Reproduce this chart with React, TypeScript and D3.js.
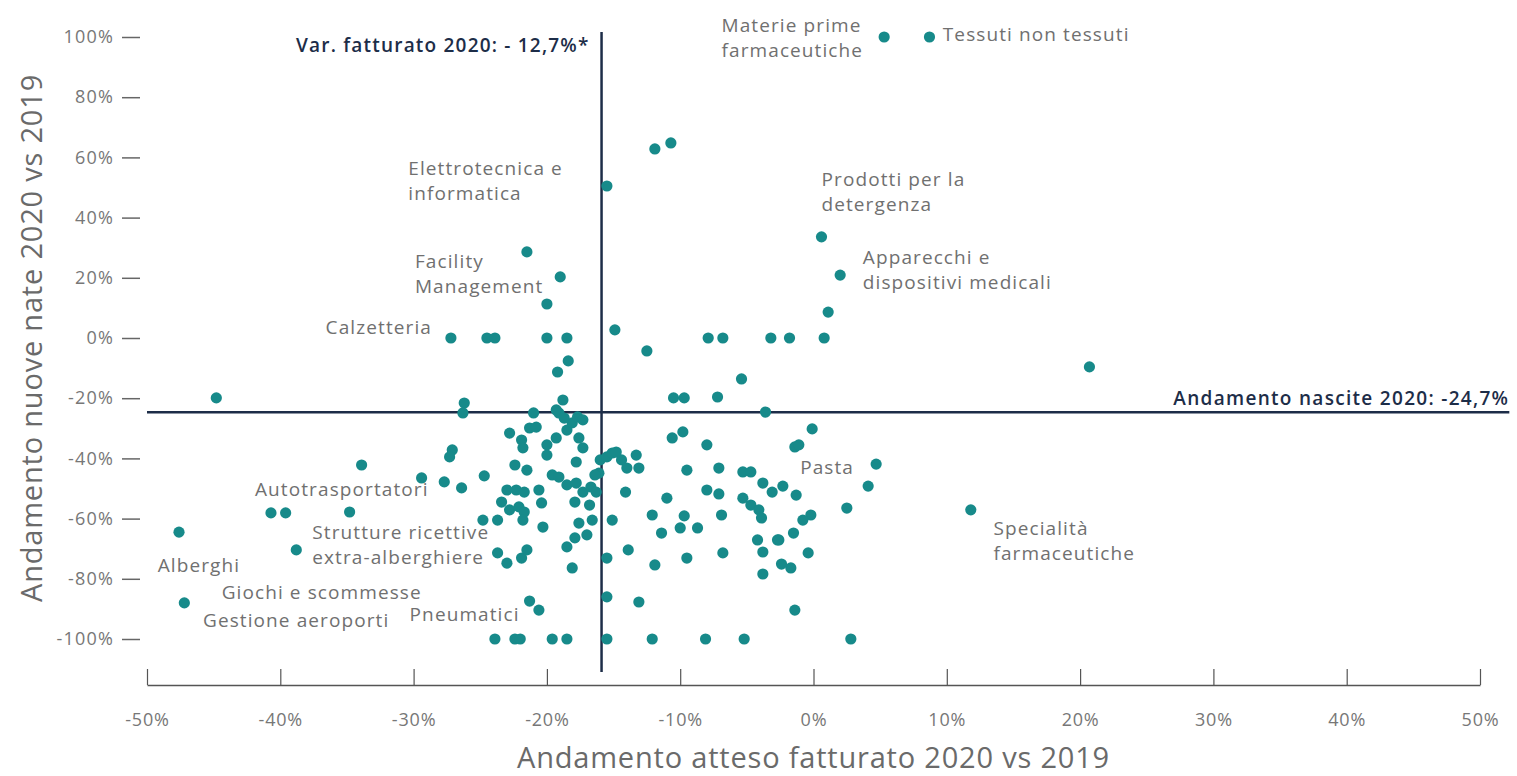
import * as d3 from "d3"
import React, { useEffect, useRef } from "react"

// Dimensioni della pagina
const widthSvg = 1517
const heightSvg = 776

const xTicks = [-50, -40, -30, -20, -10, 0, 10, 20, 30, 40, 50]
const yTicks = [100, 80, 60, 40, 20, 0, -20, -40, -60, -80, -100]

// Linee di riferimento (valori come appaiono nel grafico)
const lineaFatturato = -15.9
const lineaNascite = -24.7

// [andamento atteso fatturato %, andamento nuove nate %]
const settoriAlto: [number, number][] = [
    [5.3, 100], [8.7, 100], [-11.9, 62.8], [-10.7, 64.8], [-15.5, 50.5],
    [0.6, 33.6], [2.0, 20.9], [1.1, 8.6], [0.8, 0], [20.7, -9.6],
    [-21.5, 28.6], [-19.0, 20.3], [-20.0, 11.3],
    [-27.2, 0], [-24.5, 0], [-23.9, 0], [-20.0, 0], [-18.5, 0],
    [-7.9, 0], [-6.8, 0], [-3.2, 0], [-1.8, 0],
    [-14.9, 2.7], [-12.5, -4.3], [-18.4, -7.6], [-19.2, -11.3], [-5.4, -13.6],
    [-10.5, -19.9], [-9.7, -19.9], [-7.2, -19.6], [-3.6, -24.6], [-18.8, -20.6],
    [-26.2, -21.6], [-26.3, -24.9], [-44.8, -19.9], [-21.0, -24.9], [-19.1, -24.9],
]

const settoriDestra: [number, number][] = [
    [-0.1, -30.2], [-1.4, -36.2], [-1.1, -35.5], [4.7, -41.9], [4.1, -49.2],
    [-2.3, -49.2], [-1.3, -52.2], [2.5, -56.5], [11.8, -57.1], [-0.2, -58.8],
    [-0.8, -60.5], [-1.5, -64.8], [-2.6, -67.1], [-0.4, -71.4], [-1.7, -76.4],
    [-2.4, -75.1], [-1.4, -90.4], [2.8, -100],
]

const settoriCentro: [number, number][] = [
    [-10.6, -33.2], [-9.8, -31.2], [-8.0, -35.5], [-9.5, -43.9], [-7.1, -43.2],
    [-5.3, -44.5], [-4.7, -44.5], [-14.1, -51.2], [-11.0, -53.2], [-8.0, -50.5],
    [-7.1, -51.8], [-5.3, -53.2], [-4.7, -55.5], [-4.1, -57.1], [-3.9, -59.8],
    [-3.8, -48.2], [-3.1, -51.2], [-15.1, -60.5], [-12.1, -58.8], [-9.7, -59.1],
    [-10.0, -63.1], [-8.7, -63.1], [-6.9, -58.8], [-11.4, -64.8], [-4.2, -67.1],
    [-3.8, -71.1], [-2.7, -67.1], [-13.9, -70.4], [-9.5, -73.1], [-6.8, -71.4],
    [-11.9, -75.4], [-15.5, -73.1], [-3.8, -78.4],
    [-16.0, -40.5], [-15.5, -39.5], [-15.1, -38.2], [-14.4, -40.5], [-14.0, -43.2],
    [-13.3, -38.9], [-13.1, -43.2], [-14.8, -37.9], [-16.1, -44.9], [-16.4, -45.5],
]

const settoriSinistra: [number, number][] = [
    [-22.8, -31.6], [-21.9, -33.9], [-21.3, -29.9], [-20.8, -29.6], [-21.8, -36.5],
    [-20.0, -35.5], [-19.3, -33.2], [-18.5, -30.6], [-18.1, -28.2], [-17.6, -33.2],
    [-17.3, -36.5], [-20.0, -38.9], [-17.8, -41.2], [-19.3, -23.9], [-18.7, -26.6],
    [-17.7, -26.2], [-17.3, -27.2], [-27.1, -37.2], [-27.3, -39.5], [-27.7, -47.8],
    [-26.4, -49.8], [-24.7, -45.8], [-22.4, -42.2], [-21.5, -43.9], [-23.0, -50.5],
    [-22.3, -50.5], [-21.7, -51.2], [-23.4, -54.5], [-22.8, -57.1], [-22.1, -56.1],
    [-21.7, -57.8], [-21.8, -60.5], [-20.6, -50.5], [-20.4, -54.8], [-19.6, -45.5],
    [-19.1, -46.2], [-18.5, -48.8], [-17.8, -48.2], [-17.3, -51.2], [-16.7, -49.5],
    [-16.3, -51.2], [-17.9, -54.5], [-16.8, -55.5], [-17.6, -61.5], [-17.0, -65.4],
    [-24.8, -60.5], [-23.7, -60.5], [-20.3, -62.8], [-23.7, -71.4], [-23.0, -74.8],
    [-21.9, -73.1], [-21.5, -70.4], [-18.5, -69.4], [-17.9, -66.4], [-18.1, -76.4],
    [-21.3, -87.4], [-20.6, -90.4], [-15.5, -86.0], [-13.1, -87.7], [-16.6, -60.5],
    [-23.9, -100], [-22.4, -100], [-22.0, -100], [-19.6, -100], [-18.5, -100],
    [-15.5, -100], [-12.1, -100], [-8.1, -100], [-5.2, -100],
    [-33.9, -42.2], [-29.4, -46.5], [-40.7, -58.1], [-39.6, -58.1], [-34.8, -57.8],
    [-47.6, -64.5], [-38.8, -70.4], [-47.2, -88.0],
]

// Etichette dei settori, ancorate in coordinate dei dati
const etichette = [
    { righe: ["Materie prime", "farmaceutiche"], x: -6.9, y: 101.7 },
    { righe: ["Tessuti non tessuti"], x: 9.7, y: 98.7 },
    { righe: ["Elettrotecnica e", "informatica"], x: -30.4, y: 54.2 },
    { righe: ["Prodotti per la", "detergenza"], x: 0.6, y: 50.5 },
    { righe: ["Facility", "Management"], x: -29.9, y: 23.3 },
    { righe: ["Calzetteria"], x: -36.6, y: 1.3 },
    { righe: ["Apparecchi e", "dispositivi medicali"], x: 3.7, y: 24.6 },
    { righe: ["Pasta"], x: -1.0, y: -45.2 },
    { righe: ["Specialità", "farmaceutiche"], x: 13.5, y: -65.4 },
    { righe: ["Autotrasportatori"], x: -41.9, y: -52.5 },
    { righe: ["Strutture ricettive", "extra-alberghiere"], x: -37.6, y: -66.8 },
    { righe: ["Alberghi"], x: -49.2, y: -77.7 },
    { righe: ["Giochi e scommesse"], x: -44.4, y: -86.7 },
    { righe: ["Gestione aeroporti"], x: -45.8, y: -96.0 },
    { righe: ["Pneumatici"], x: -30.3, y: -94.0 },
]

const font = "'Open Sans', 'Noto Sans', sans-serif"
const teal = "#178a8a"
const navy = "#1d2d48"

const App = () => {
    const refSvg = useRef<SVGSVGElement>(null)

    useEffect(() => {
        const svg = d3.select(refSvg.current)
        svg.selectAll("*").remove()

        const scaleX = d3.scaleLinear().domain([-50, 50]).range([147, 1480])
        const scaleY = d3.scaleLinear().domain([-100, 100]).range([639, 37])

        // Asse x con tacche verso l'alto
        const gX = svg.append("g").attr("transform", `translate(0, 685)`)
        gX.call(d3.axisBottom(scaleX)
                .tickValues(xTicks)
                .tickSize(-16)
                .tickSizeOuter(0)
                .tickPadding(28)
                .tickFormat(d => `${d}%`))
        gX.select(".domain").attr("stroke", "#555").attr("stroke-width", 1.5)
        gX.selectAll(".tick line").attr("stroke", "#555").attr("stroke-width", 1.2)
        gX.selectAll(".tick text")
            .attr("fill", "#777")
            .attr("font-family", font)
            .attr("font-size", 18)
            .attr("letter-spacing", 0.8)

        // Asse y: solo trattini e etichette
        const gY = svg.append("g").attr("transform", `translate(140, 0)`)
        gY.call(d3.axisLeft(scaleY)
                .tickValues(yTicks)
                .tickSize(18)
                .tickPadding(8)
                .tickFormat(d => `${d}%`))
        gY.select(".domain").remove()
        gY.selectAll(".tick line").attr("stroke", "#666").attr("stroke-width", 1.5)
        gY.selectAll(".tick text")
            .attr("fill", "#777")
            .attr("font-family", font)
            .attr("font-size", 18)
            .attr("letter-spacing", 1.2)

        // Titoli degli assi
        svg.append("text")
            .attr("x", scaleX(0))
            .attr("y", 768)
            .attr("text-anchor", "middle")
            .attr("font-family", font)
            .attr("font-size", 29)
            .attr("letter-spacing", 0.8)
            .attr("fill", "#6a6a6a")
            .text("Andamento atteso fatturato 2020 vs 2019")
        svg.append("text")
            .attr("transform", `translate(42, ${scaleY(0)}) rotate(-90)`)
            .attr("text-anchor", "middle")
            .attr("font-family", font)
            .attr("font-size", 29)
            .attr("letter-spacing", 0.8)
            .attr("fill", "#6a6a6a")
            .text("Andamento nuove nate 2020 vs 2019")

        // Linee di riferimento
        svg.append("line")
            .attr("x1", scaleX(lineaFatturato)).attr("x2", scaleX(lineaFatturato))
            .attr("y1", scaleY(100) - 5).attr("y2", scaleY(-100) + 33)
            .attr("stroke", navy).attr("stroke-width", 2.5)
        svg.append("line")
            .attr("x1", scaleX(-50)).attr("x2", scaleX(52.2))
            .attr("y1", scaleY(lineaNascite)).attr("y2", scaleY(lineaNascite))
            .attr("stroke", navy).attr("stroke-width", 2.5)

        svg.append("text")
            .attr("x", scaleX(lineaFatturato) - 12)
            .attr("y", 52)
            .attr("text-anchor", "end")
            .attr("font-family", font)
            .attr("font-weight", 600)
            .attr("font-size", 19)
            .attr("letter-spacing", 1.2)
            .attr("fill", navy)
            .text("Var. fatturato 2020: - 12,7%*")
        svg.append("text")
            .attr("x", scaleX(52.2))
            .attr("y", scaleY(lineaNascite) - 7)
            .attr("text-anchor", "end")
            .attr("font-family", font)
            .attr("font-weight", 600)
            .attr("font-size", 19)
            .attr("letter-spacing", 1.3)
            .attr("fill", navy)
            .text("Andamento nascite 2020: -24,7%")

        // Punti
        const punti = [...settoriAlto, ...settoriDestra, ...settoriCentro, ...settoriSinistra]
        svg.append("g")
            .selectAll("circle")
            .data(punti)
            .join("circle")
            .attr("cx", d => scaleX(d[0]))
            .attr("cy", d => scaleY(d[1]))
            .attr("r", 5.6)
            .attr("fill", teal)

        // Etichette
        const gLab = svg.append("g")
            .attr("font-family", font)
            .attr("font-size", 19)
            .attr("letter-spacing", 1.1)
            .attr("fill", "#707070")
        etichette.forEach(e => {
            const t = gLab.append("text")
                .attr("x", scaleX(e.x))
                .attr("y", scaleY(e.y))
            e.righe.forEach((r, i) => {
                t.append("tspan")
                    .attr("x", scaleX(e.x))
                    .attr("dy", i === 0 ? 0 : 25)
                    .text(r)
            })
        })
    }, [])

    return (
        <div style={{ position: "absolute", left: 0, top: 0 }}>
            <svg ref={refSvg} width={widthSvg} height={heightSvg}
                 style={{ display: "block", background: "#fff" }}></svg>
        </div>
    )
}

export default App
